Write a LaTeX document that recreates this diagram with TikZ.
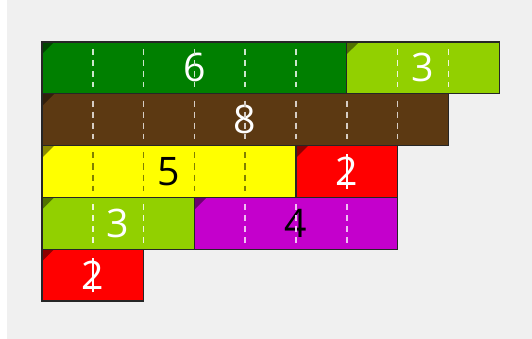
\documentclass[tikz,border=0pt]{standalone}
\usepackage{fontspec}
\setmainfont{Open Sans}
\usepackage{tikz}
\usetikzlibrary{calc}
\definecolor{rodgreen}{HTML}{007F00}
\definecolor{rodlime}{HTML}{92D000}
\definecolor{rodbrown}{HTML}{5C3912}
\definecolor{rodyellow}{HTML}{FFFF00}
\definecolor{rodred}{HTML}{FF0000}
\definecolor{rodpurple}{HTML}{C400CC}
\definecolor{paper}{HTML}{F0F0F0}
\tikzset{
  rod/.style={
    rectangle, anchor=north west,
    minimum height=1.02cm, inner sep=0pt, outer sep=0pt,
    font=\fontsize{22pt}{22pt}\selectfont
  },
  frame/.style={draw=black!85, line width=0.7pt},
  tick/.style={line width=1pt, dash pattern=on 3.4pt off 2.8pt},
}

\begin{document}
\begin{tikzpicture}[x=1cm, y=1.02cm]

% paper
\fill[paper] (-0.827,0.811) rectangle (9.646,-5.731);
\fill[white] (-0.827,0.811) rectangle (-0.69,-5.731);

% rods: name/start/row/length/fill/digit colour/dash colour
\foreach \name/\x/\r/\n/\col/\tc/\dc in {
  six/0/0/6/rodgreen/white/white!80!rodgreen,
  threeA/6/0/3/rodlime/white/white!85!rodlime,
  eight/0/1/8/rodbrown/white/white!75!rodbrown,
  five/0/2/5/rodyellow/black/rodyellow!50!black,
  twoA/5/2/2/rodred/white/rodred,
  threeB/0/3/3/rodlime/white/white!85!rodlime,
  four/3/3/4/rodpurple/black/white!75!rodpurple,
  twoB/0/4/2/rodred/white/rodred}{
  \node[rod, fill=\col, text=\tc, minimum width=\n cm] (\name) at (\x,-\r) {\n};
  \fill[\col!55!black] (\name.north west) -- ++(0.24,0) -- ++(-0.24,-0.235) -- cycle;
  \pgfmathtruncatemacro{\m}{\n-1}
  \foreach \k in {1,...,\m}
    \draw[tick, draw=\dc] ($(\name.north west)+(\k,-0.13)$) -- ($(\name.south west)+(\k,0.13)$);
}

% white stroke through the red digits
\draw[white, line width=0.8pt] ($(twoA.center)+(0,-0.33)$) -- ($(twoA.center)+(0,0.33)$);
\draw[white, line width=0.8pt] ($(twoB.center)+(0,-0.33)$) -- ($(twoB.center)+(0,0.33)$);

% outlines on top
\foreach \name in {six,threeA,eight,five,twoA,threeB,four,twoB}
  \draw[frame] (\name.north west) rectangle (\name.south east);

\end{tikzpicture}
\end{document}
